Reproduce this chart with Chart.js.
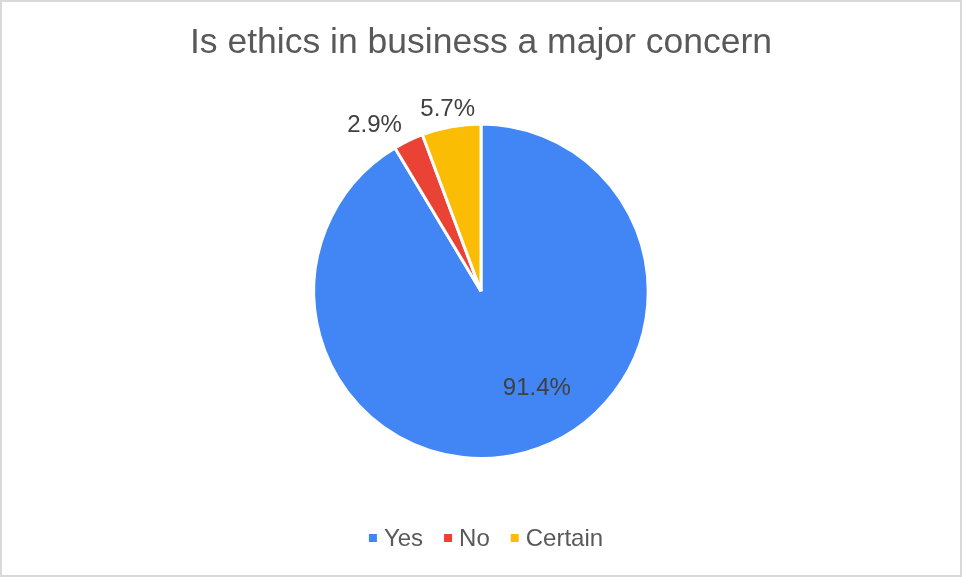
<!DOCTYPE html>
<html>
<head>
<meta charset="utf-8">
<script src="https://cdn.jsdelivr.net/npm/chart.js@4"></script>
<style>
	html, body { margin: 0; padding: 0; background: #fff; }
	.frame {
		position: absolute; left: 0; top: 0;
		width: 958px; height: 573px;
		border: 2px solid #d9d9d9;
	}
	canvas { position: absolute; left: 0; top: 0; }
</style>
</head>
<body>
<div class="frame"></div>
<canvas id="pie" width="962" height="577"></canvas>
<script>
let answers = ['Yes', 'No', 'Certain'];
let shares = [91.4, 2.9, 5.7];
let sliceColors = ['#4285f4', '#ea4335', '#fbbc04'];

let fontFamily = '"Liberation Sans", Arial, sans-serif';

// draws the percentage of each slice, inside for big ones, outside for small.
// neighbouring outside labels get pushed apart so they don't overlap
let sliceLabels = {
	id: 'sliceLabels',
	afterDatasetsDraw(chart) {
		let ctx = chart.ctx;
		let meta = chart.getDatasetMeta(0);
		ctx.save();
		ctx.font = '24px ' + fontFamily;
		ctx.fillStyle = '#404040';
		ctx.textAlign = 'center';
		ctx.textBaseline = 'middle';
		meta.data.forEach((arc, i) => {
			let p = arc.getProps(['x', 'y', 'startAngle', 'endAngle', 'outerRadius'], true);
			let mid = (p.startAngle + p.endAngle) / 2;
			let r;
			if (shares[i] > 20) {
				mid -= 0.26;
				r = p.outerRadius * 0.66;
			} else if (i + 1 < shares.length && shares[i + 1] <= 20) {
				mid -= 0.115;
				r = p.outerRadius * 1.19;
			} else {
				r = p.outerRadius * 1.12;
			}
			ctx.fillText(shares[i].toFixed(1) + '%',
				p.x + Math.cos(mid) * r, p.y + Math.sin(mid) * r + 2);
		});
		ctx.restore();
	}
};

// small square swatches with the answer names, in one centred row
let bottomLegend = {
	id: 'bottomLegend',
	afterDraw(chart) {
		let ctx = chart.ctx;
		let box = 8, gap = 7, spacing = 21;
		let y = 538;
		ctx.save();
		ctx.font = '24px ' + fontFamily;
		ctx.textBaseline = 'middle';
		let widths = answers.map(a => ctx.measureText(a).width);
		let total = widths.reduce((s, w) => s + w + box + gap, 0) + spacing * (answers.length - 1);
		let x = (chart.chartArea.left + chart.chartArea.right) / 2 - total / 2 + 5;
		answers.forEach((a, i) => {
			ctx.fillStyle = sliceColors[i];
			ctx.fillRect(x, y - box / 2, box, box);
			x += box + gap;
			ctx.fillStyle = '#595959';
			ctx.fillText(a, x, y + 1);
			x += widths[i] + spacing;
		});
		ctx.restore();
	}
};

function main() {
	let ctx = document.getElementById('pie').getContext('2d');
	new Chart(ctx, {
		type: 'pie',
		data: {
			labels: answers,
			datasets: [{
				data: shares,
				backgroundColor: sliceColors,
				borderColor: '#ffffff',
				borderWidth: 3
			}]
		},
		options: {
			responsive: false,
			animation: false,
			layout: { padding: { top: 0, bottom: 117, left: 0, right: 0 } },
			plugins: {
				title: {
					display: true,
					text: 'Is ethics in business a major concern',
					color: '#595959',
					font: { family: fontFamily, size: 35.5, weight: 'normal' },
					padding: { top: 22, bottom: 58 }
				},
				legend: { display: false },
				tooltip: { enabled: false }
			}
		},
		plugins: [sliceLabels, bottomLegend]
	});
}

document.addEventListener('DOMContentLoaded', main);
</script>
</body>
</html>
